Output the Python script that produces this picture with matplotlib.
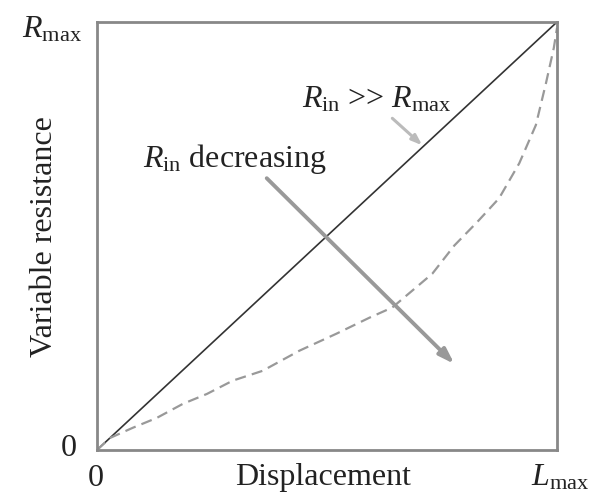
import matplotlib
matplotlib.use("Agg")
import matplotlib.pyplot as plt

plt.rcParams['font.family'] = ['Liberation Serif', 'DejaVu Serif']
plt.rcParams['mathtext.fontset'] = 'custom'
plt.rcParams['mathtext.rm'] = 'Liberation Serif'
plt.rcParams['mathtext.it'] = 'Liberation Serif:italic'

# Data (normalized displacement 0..1, normalized resistance 0..1)
ideal_x = [0.0, 1.0]
ideal_y = [0.0, 1.0]

loaded_x = [0.0, 0.028, 0.078, 0.130, 0.187, 0.239, 0.295, 0.360, 0.440, 0.521,
            0.592, 0.642, 0.685, 0.729, 0.777, 0.826, 0.874, 0.918, 0.954, 0.976,
            0.993, 1.0]
loaded_y = [0.0, 0.028, 0.052, 0.075, 0.108, 0.131, 0.162, 0.185, 0.232, 0.272,
            0.309, 0.333, 0.372, 0.412, 0.478, 0.532, 0.588, 0.670, 0.759, 0.857,
            0.939, 0.986]

xtick_pos = [0.0, 1.0]
xtick_labels = ['0', r'$L_{\mathrm{max}}$']
ytick_pos = [0.0, 1.0]
ytick_labels = ['0', r'$R_{\mathrm{max}}$']

W, H = 591, 496
FS = 23
TXT = '#222222'

fig = plt.figure(figsize=(W / 100, H / 100), dpi=100)
ax = fig.add_axes([97 / W, 1 - 450 / H, (557 - 97) / W, (450 - 22) / H])

ax.plot(ideal_x, ideal_y, color='#333333', lw=1.2)
ax.plot(loaded_x, loaded_y, color='#999999', lw=1.6, dashes=(5, 2.8))

ax.annotate('', xy=(0.777, 0.201), xytext=(0.369, 0.635),
            arrowprops=dict(arrowstyle='-|>,head_length=0.9,head_width=0.3',
                            color='#999999', lw=2.8, shrinkA=0, shrinkB=0))
ax.annotate('', xy=(0.707, 0.712), xytext=(0.642, 0.775),
            arrowprops=dict(arrowstyle='-|>,head_length=0.6,head_width=0.22',
                            color='#bbbbbb', lw=2.2, shrinkA=0, shrinkB=0))

ax.text(302 / W, 1 - 107 / H, r'$R_{\mathrm{in}}$ >> $R_{\mathrm{max}}$', fontsize=FS,
        ha='left', va='baseline', color=TXT, transform=fig.transFigure)
ax.text(143 / W, 1 - 167 / H, r'$R_{\mathrm{in}}$ decreasing', fontsize=FS,
        ha='left', va='baseline', color=TXT, transform=fig.transFigure)

ax.set_xlim(0, 1)
ax.set_ylim(0, 1)
ax.set_xticks([])
ax.set_yticks([])

# tick labels placed to match reference
xlab_px = {0: (96, 'center', 486), 1: (531, 'left', 485)}
for i, (pos, lab) in enumerate(zip(xtick_pos, xtick_labels)):
    px, ha, py = xlab_px[i]
    fig.text(px / W, 1 - py / H, lab, fontsize=FS, ha=ha, va='baseline', color=TXT)
ylab_px = {0: (77, 'right', 456), 1: (22, 'left', 37)}
for i, (pos, lab) in enumerate(zip(ytick_pos, ytick_labels)):
    px, ha, py = ylab_px[i]
    fig.text(px / W, 1 - py / H, lab, fontsize=FS, ha=ha, va='baseline', color=TXT)

fig.text(323.5 / W, 1 - 485 / H, 'Displacement', fontsize=FS, ha='center',
         va='baseline', color=TXT)
fig.text(45 / W, 1 - 237 / H, 'Variable resistance', fontsize=FS, ha='center',
         va='center', rotation=90, color=TXT)

for s in ax.spines.values():
    s.set_color('#888888')
    s.set_linewidth(2.0)

fig.savefig('out.png', dpi=100)
